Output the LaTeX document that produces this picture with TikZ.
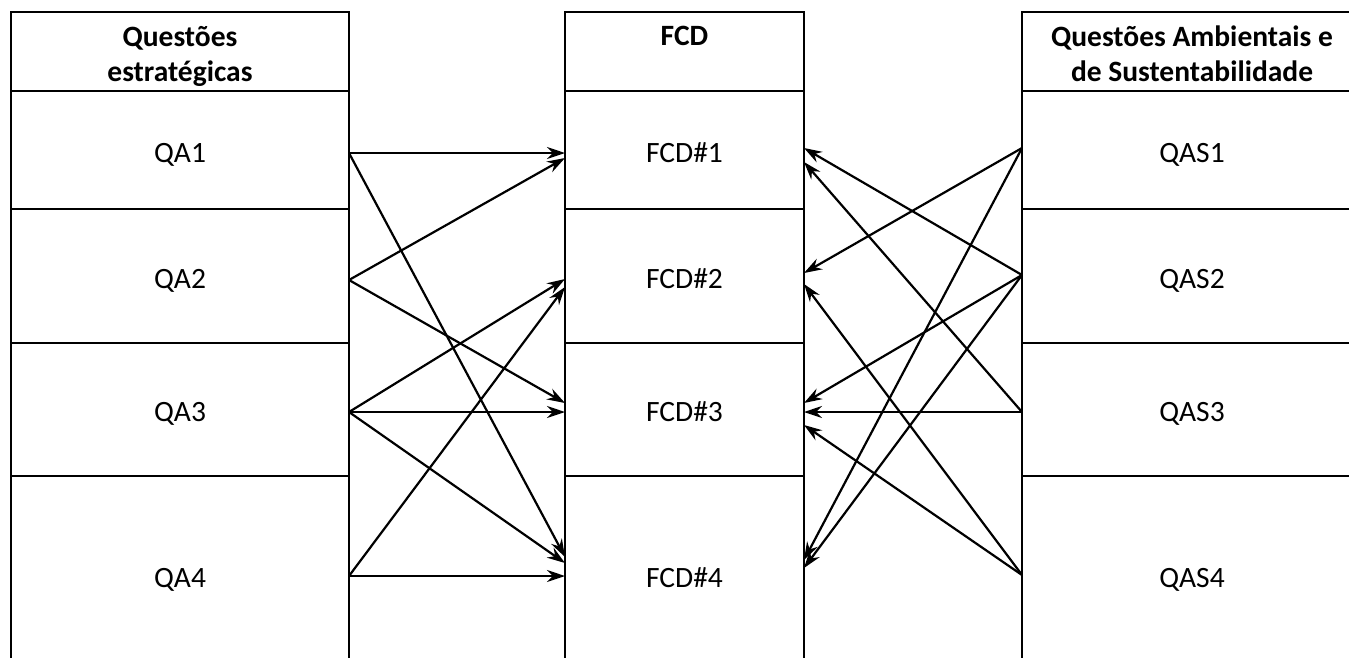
\documentclass[tikz,border=0pt]{standalone}
\usepackage{fontspec}
\setmainfont{Carlito}
\usetikzlibrary{arrows.meta}
\begin{document}
\begin{tikzpicture}[x=1pt,y=-1pt,
  cell/.style={draw=black,line width=2.5pt,rectangle,inner sep=0pt,outer sep=0pt,
    text height=24pt,text depth=0pt,
    font=\fontsize{29.5}{34}\selectfont},
  lcol/.style={cell,minimum width=338pt},
  mcol/.style={cell,minimum width=239pt},
  rcol/.style={cell,minimum width=340pt},
  hdr/.style={anchor=north,align=center,inner sep=0pt,
    font=\fontsize{29.5}{35}\selectfont\bfseries},
  arr/.style={line width=2.2pt,-{Stealth[length=18pt,width=12pt,inset=6pt]}}]
\path[use as bounding box] (0,0) rectangle (1349,657);
\clip (0,0) rectangle (1349,657);
% left column
\node[lcol,minimum height=79pt] (lh) at (180,51.5) {};
\node[lcol,minimum height=118pt] (qa1) at (180,150) {QA1};
\node[lcol,minimum height=134pt] (qa2) at (180,276) {QA2};
\node[lcol,minimum height=133pt] (qa3) at (180,409.5) {QA3};
\node[lcol,minimum height=198pt] (qa4) at (180,575) {QA4};
% middle column
\node[mcol,minimum height=79pt] (mh) at (684.5,51.5) {};
\node[mcol,minimum height=118pt] (fcd1) at (684.5,150) {FCD\#1};
\node[mcol,minimum height=134pt] (fcd2) at (684.5,276) {FCD\#2};
\node[mcol,minimum height=133pt] (fcd3) at (684.5,409.5) {FCD\#3};
\node[mcol,minimum height=198pt] (fcd4) at (684.5,575) {FCD\#4};
% right column
\node[rcol,minimum height=79pt] (rh) at (1192,51.5) {};
\node[rcol,minimum height=118pt] (qas1) at (1192,150) {QAS1};
\node[rcol,minimum height=134pt] (qas2) at (1192,276) {QAS2};
\node[rcol,minimum height=133pt] (qas3) at (1192,409.5) {QAS3};
\node[rcol,minimum height=198pt] (qas4) at (1192,575) {QAS4};
% headers
\node[hdr] (lht) at (180,26) {Questões\\estratégicas};
\node[hdr] (mht) at (684.5,26) {FCD};
\node[hdr] (rht) at (1192,26) {Questões Ambientais e\\de Sustentabilidade};
% left arrows
\draw[arr] ([yshift=-3pt]qa1.east) -- ([yshift=-3pt]fcd1.west);
\draw[arr] ([yshift=-3pt]qa1.east) -- ([yshift=18pt]fcd4.west);
\draw[arr] ([yshift=-4pt]qa2.east) -- ([yshift=-8pt]fcd1.west);
\draw[arr] ([yshift=-4pt]qa2.east) -- ([yshift=6.5pt]fcd3.west);
\draw[arr] ([yshift=-2.5pt]qa3.east) -- ([yshift=-3pt]fcd2.west);
\draw[arr] ([yshift=-2.5pt]qa3.east) -- ([yshift=-2.5pt]fcd3.west);
\draw[arr] ([yshift=-2.5pt]qa3.east) -- ([yshift=12pt]fcd4.west);
\draw[arr] ([yshift=-1pt]qa4.east) -- ([yshift=-11pt]fcd2.west);
\draw[arr] ([yshift=-1pt]qa4.east) -- ([yshift=-1pt]fcd4.west);
% right arrows
\draw[arr] ([yshift=2pt]qas1.west) -- ([yshift=3pt]fcd2.east);
\draw[arr] ([yshift=2pt]qas1.west) -- ([yshift=15pt]fcd4.east);
\draw[arr] ([yshift=1pt]qas2.west) -- ([yshift=2pt]fcd1.east);
\draw[arr] ([yshift=1pt]qas2.west) -- ([yshift=6.5pt]fcd3.east);
\draw[arr] ([yshift=1pt]qas2.west) -- ([yshift=7pt]fcd4.east);
\draw[arr] ([yshift=-2.5pt]qas3.west) -- ([yshift=-12pt]fcd1.east);
\draw[arr] ([yshift=-2.5pt]qas3.west) -- ([yshift=-2.5pt]fcd3.east);
\draw[arr] (qas4.west) -- ([yshift=-8pt]fcd2.east);
\draw[arr] (qas4.west) -- ([yshift=-15.5pt]fcd3.east);
\end{tikzpicture}
\end{document}
